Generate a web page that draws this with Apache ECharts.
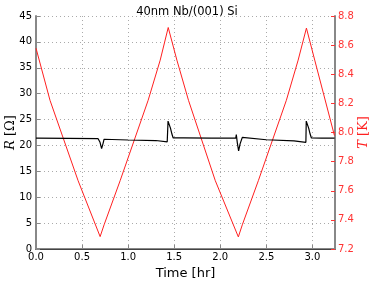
<!DOCTYPE html>
<html><head><meta charset="utf-8">
<script src="https://cdn.jsdelivr.net/npm/echarts@6/dist/echarts.min.js"></script>
<style>html,body{margin:0;padding:0;background:#fff}#c{width:374px;height:281px}</style>
</head><body><div id="c"></div>
<script>
var title = "40nm Nb/(001) Si";
var xTicks = [0, 0.5, 1.0, 1.5, 2.0, 2.5, 3.0];
// Temperature T [K] vs time [hr]
var tempTime = [0, 0.152, 0.457, 0.696, 0.739, 0.913, 1.217, 1.348, 1.435, 1.529, 1.655, 1.946, 2.196, 2.239, 2.413, 2.717, 2.845, 2.935, 3.025, 3.239];
var tempVal  = [8.579, 8.221, 7.669, 7.285, 7.366, 7.669, 8.221, 8.497, 8.721, 8.497, 8.221, 7.669, 7.283, 7.366, 7.669, 8.221, 8.497, 8.717, 8.497, 7.979];
// Resistance R [Ohm] vs time [hr]
var resTime = [0, 0.35, 0.674, 0.695, 0.712, 0.728, 0.739, 0.76, 1.0, 1.3, 1.424, 1.433, 1.435, 1.445, 1.46, 1.475, 1.489, 1.6, 1.9, 2.168, 2.174, 2.185, 2.199, 2.215, 2.239, 2.26, 2.5, 2.8, 2.929, 2.933, 2.935, 2.945, 2.96, 2.975, 2.989, 3.1, 3.24];
var resVal  = [21.4, 21.35, 21.3, 20.6, 19.4, 20.4, 21.2, 21.15, 21.05, 20.95, 20.7, 24.7, 24.73, 24.5, 23.3, 22.2, 21.45, 21.45, 21.4, 21.4, 22.1, 20.5, 18.95, 20.3, 21.55, 21.2, 21.1, 20.9, 20.6, 24.7, 24.73, 24.5, 23.3, 22.2, 21.45, 21.4, 21.4];

function pairs(a, b){ return a.map(function(v,i){ return [v, b[i]]; }); }
var font = "DejaVu Sans";
var chart = echarts.init(document.getElementById('c'), null, {renderer:'canvas'});
chart.setOption({
  animation: false,
  backgroundColor: '#fff',
  title: {text: title, left: 'center', top: 1, textStyle: {fontFamily: font, fontSize: 11.5, fontWeight: 'normal', color: '#000'}},
  grid: {left: 36, right: 39, top: 16, bottom: 32, containLabel: false, outerBoundsMode: 'none'},
  xAxis: [{
    type: 'value', min: 0, max: 3.245, interval: 0.5,
    name: 'Time [hr]', nameLocation: 'middle', nameGap: 17,
    nameTextStyle: {fontFamily: font, fontSize: 13, color: '#000'},
    axisLine: {show: true, onZero: false, lineStyle: {color: '#888', width: 2}},
    axisTick: {inside: true, length: 4, lineStyle: {color: '#888'}},
    axisLabel: {fontFamily: font, fontSize: 10, color: '#000', margin: 3, showMaxLabel: false,
      formatter: function(v){ return v.toFixed(1); }},
    splitLine: {show: true, lineStyle: {color: '#aaa', type: [1, 3], width: 1}}
  }, {
    type: 'value', position: 'top', min: 0, max: 3.245,
    axisLine: {show: true, lineStyle: {color: '#444', width: 1}},
    axisTick: {show: false}, axisLabel: {show: false}, splitLine: {show: false}
  }],
  yAxis: [{
    type: 'value', min: 0, max: 45, interval: 5, position: 'left',
    name: '𝑅 [Ω]', nameLocation: 'middle', nameGap: 19, nameRotate: 90, nameMoveOverlap: false,
    nameTextStyle: {fontFamily: 'DejaVu Serif', fontSize: 13, color: '#000'},
    axisLine: {show: true, onZero: false, lineStyle: {color: '#888', width: 2}},
    axisTick: {show: true, inside: true, length: 4, lineStyle: {color: '#888'}},
    axisLabel: {fontFamily: font, fontSize: 10, color: '#000', margin: 4},
    splitLine: {show: true, lineStyle: {color: '#aaa', type: [1, 3], width: 1}}
  }, {
    type: 'value', min: 7.2, max: 8.8, interval: 0.2, position: 'right',
    name: '𝑇 [K]', nameLocation: 'middle', nameGap: 22, nameRotate: 90, nameMoveOverlap: false,
    nameTextStyle: {fontFamily: 'DejaVu Serif', fontSize: 13, color: '#ff2020'},
    axisLine: {show: true, onZero: false, lineStyle: {color: '#888', width: 2}},
    axisTick: {show: true, inside: true, length: 4, lineStyle: {color: '#ff3333'}},
    axisLabel: {fontFamily: font, fontSize: 10, color: '#ff3333', margin: 3,
      formatter: function(v){ return v.toFixed(1); }},
    splitLine: {show: false}
  }],
  series: [{
    type: 'line', xAxisIndex: 0, yAxisIndex: 0, data: pairs(resTime, resVal),
    showSymbol: false, lineStyle: {color: '#000', width: 1.2}, z: 3
  }, {
    type: 'line', xAxisIndex: 0, yAxisIndex: 1, data: pairs(tempTime, tempVal),
    showSymbol: false, lineStyle: {color: '#ff2020', width: 1}, z: 2
  }]
});
</script></body></html>
